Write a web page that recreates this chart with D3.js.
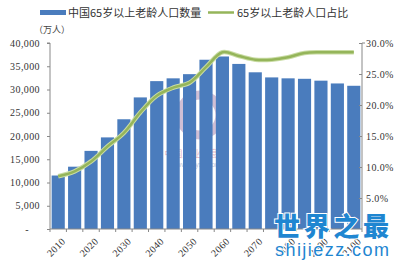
<!DOCTYPE html>
<html><head><meta charset="utf-8">
<script src="https://cdn.jsdelivr.net/npm/d3@7/dist/d3.min.js"></script>
<style>body{margin:0;background:#fff}svg{display:block}</style>
</head><body>
<svg id="c" width="400" height="263"></svg>
<script>
const years = [2010,2015,2020,2025,2030,2035,2040,2045,2050,2055,2060,2065,2070,2075,2080,2085,2090,2095,2100];
const population = [11500,13400,16800,19700,23600,28300,31800,32400,33300,36400,37100,35500,33700,32600,32400,32300,31900,31300,30800];
const ratio = [8.5,9.3,10.9,13.3,15.5,18.8,21.5,22.8,23.6,26.1,28.5,27.9,27.3,27.3,27.7,28.4,28.5,28.5,28.5];
const leftTicks = [0,5000,10000,15000,20000,25000,30000,35000,40000];
const rightTicks = [5,10,15,20,25,30];
const labelYears = [2010,2020,2030,2040,2050,2060,2070,2080,2090,2100];
const legendBar = "中国65岁以上老龄人口数量";
const legendLine = "65岁以上老龄人口占比";
const unitLabel = "（万人）";

const svg = d3.select("#c");
const L = 50, R = 362, T = 43, B = 229;
const x = d3.scaleBand().domain(years).range([L, R]).paddingInner(0.2).paddingOuter(0.1);
const yL = d3.scaleLinear().domain([0, 40000]).range([B, T]);
const yR = d3.scaleLinear().domain([0, 30]).range([B, T]);
const serif = "'Liberation Serif','DejaVu Serif',serif";
const cjk = "'Noto Sans CJK SC',sans-serif";

// faint centre watermark
const wm = svg.append("g").attr("opacity", 0.35);
wm.append("circle").attr("cx", 200).attr("cy", 115).attr("r", 20).attr("fill", "none").attr("stroke", "#7a4a8a").attr("stroke-width", 9);
wm.append("text").attr("x", 196).attr("y", 157).attr("text-anchor", "middle").attr("font-family", cjk).attr("font-size", 9).attr("fill", "#c03050").text("中国产业信息网");
wm.append("text").attr("x", 196).attr("y", 167).attr("text-anchor", "middle").attr("font-family", "Arial,sans-serif").attr("font-size", 7).attr("fill", "#4060a0").text("www.chyxx.com");

// bars
svg.append("g").selectAll("rect").data(years).join("rect")
  .attr("x", d => x(d)).attr("width", x.bandwidth())
  .attr("y", (d, i) => yL(population[i])).attr("height", (d, i) => B - yL(population[i]))
  .attr("fill", "#4a7cbd");

// line
const line = d3.line().x((d, i) => x(years[i]) + x.bandwidth() / 2).y(d => yR(d)).curve(d3.curveCatmullRom);
svg.append("path").datum(ratio).attr("d", line).attr("fill", "none").attr("stroke", "#c9dca4").attr("stroke-width", 4.5);
svg.append("path").datum(ratio).attr("d", line).attr("fill", "none").attr("stroke", "#95b55a").attr("stroke-width", 2.5);

// left axis
const gl = svg.append("g").attr("transform", `translate(${L},0)`)
  .call(d3.axisLeft(yL).tickValues(leftTicks).tickSize(3).tickPadding(7).tickFormat(d => d === 0 ? "-" : d3.format(",")(d)));
gl.selectAll("text").attr("font-family", serif).attr("font-size", 10).attr("fill", "#333").attr("letter-spacing", 0.4);
gl.selectAll("text").filter(d => d === 0).attr("dx", -11);
gl.select(".domain").attr("stroke", "#888").attr("d", `M-3,${T}H0V${B}`);
gl.selectAll(".tick line").attr("stroke", "#888");

// right axis
const gr = svg.append("g").attr("transform", `translate(${R},0)`)
  .call(d3.axisRight(yR).tickValues(rightTicks).tickSize(-3).tickPadding(4).tickFormat(d => d3.format(".1f")(d) + "%"));
gr.selectAll("text").attr("font-family", serif).attr("font-size", 10).attr("fill", "#333").attr("letter-spacing", 0.4);
gr.select(".domain").attr("stroke", "#888").attr("d", `M3,${T}H0V${B}`);
gr.selectAll(".tick line").attr("stroke", "#888");

// bottom axis
const gb = svg.append("g");
gb.append("line").attr("x1", L).attr("x2", R).attr("y1", B).attr("y2", B).attr("stroke", "#888");
gb.selectAll("line.t").data(d3.range(years.length + 1)).join("line").attr("class", "t")
  .attr("x1", i => L + i * (R - L) / years.length).attr("x2", i => L + i * (R - L) / years.length)
  .attr("y1", B).attr("y2", B + 3).attr("stroke", "#888");
gb.selectAll("text").data(labelYears).join("text")
  .attr("transform", d => `translate(${x(d) + x.bandwidth() / 2 + 3},${B + 8}) rotate(-45)`)
  .attr("text-anchor", "end").attr("dy", "0.7em")
  .attr("font-family", serif).attr("font-size", 10).attr("fill", "#333").attr("letter-spacing", 0.4)
  .text(d => d);

// unit label
svg.append("text").attr("x", 34).attr("y", 33).attr("font-family", cjk).attr("font-size", 9).attr("fill", "#444").text(unitLabel);

// legend
svg.append("rect").attr("x", 40).attr("y", 10).attr("width", 26).attr("height", 5).attr("fill", "#4a7cbd");
svg.append("text").attr("x", 68).attr("y", 17).attr("font-family", cjk).attr("font-size", 11).attr("fill", "#333").text(legendBar);
svg.append("line").attr("x1", 208).attr("x2", 234).attr("y1", 12.5).attr("y2", 12.5).attr("stroke", "#95b55a").attr("stroke-width", 2.5);
svg.append("text").attr("x", 237).attr("y", 17).attr("font-family", cjk).attr("font-size", 11).attr("fill", "#333").text(legendLine);

// bottom-right watermark
const w2 = svg.append("g");
w2.append("text").attr("x", 274).attr("y", 236).attr("font-family", cjk).attr("font-weight", 900).attr("font-size", 26)
  .attr("fill", "#1f86d1").attr("stroke", "#fff").attr("stroke-width", 2).attr("paint-order", "stroke").attr("textLength", 115).text("世界之最");
w2.append("text").attr("x", 275).attr("y", 256).attr("font-family", "'Liberation Sans',Arial,sans-serif").attr("font-size", 18)
  .attr("fill", "#1f86d1").attr("stroke", "#fff").attr("stroke-width", 2).attr("paint-order", "stroke").attr("textLength", 114).text("shijiezz.com");
</script>
</body></html>
